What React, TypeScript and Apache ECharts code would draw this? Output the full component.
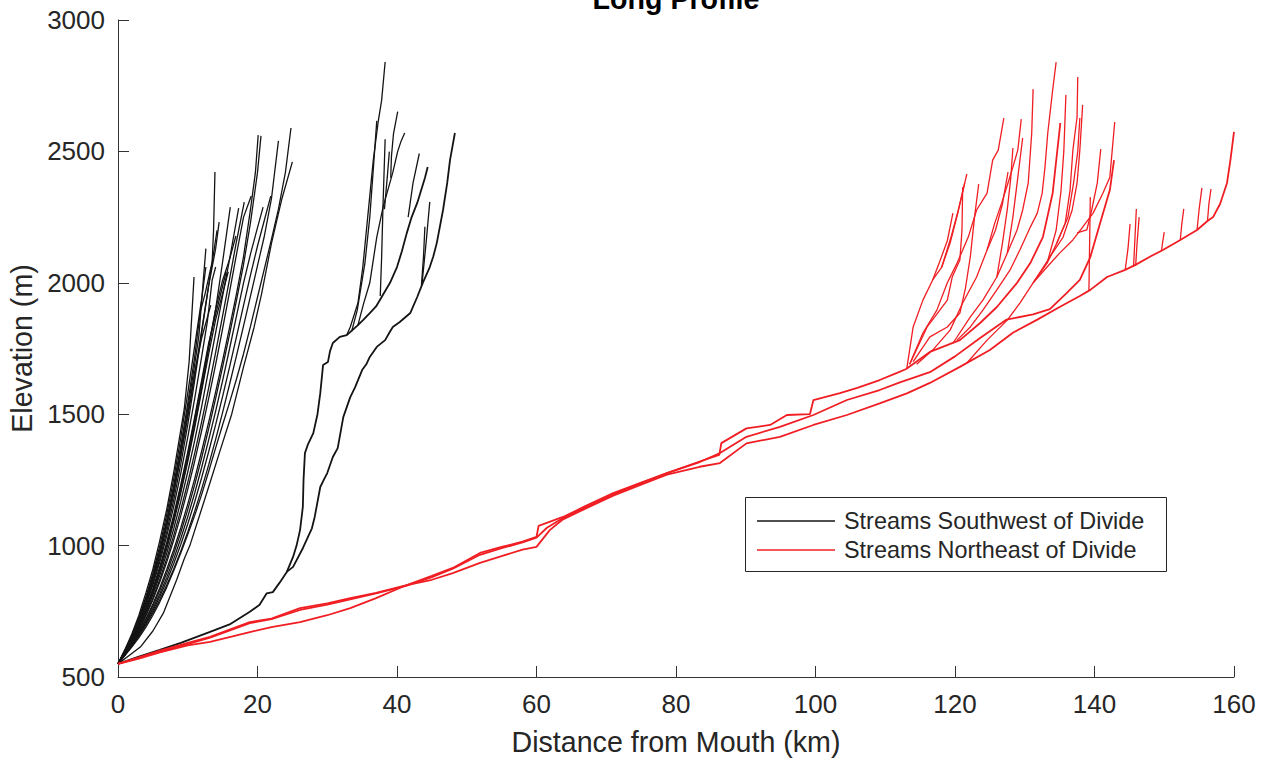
import { useEffect, useRef } from "react";
import * as echarts from "echarts";

type Pt = [number, number];

const SW_NAME = "Streams Southwest of Divide";
const NE_NAME = "Streams Northeast of Divide";
const TITLE = "Long Profile";
const X_NAME = "Distance from Mouth (km)";
const Y_NAME = "Elevation (m)";

// ---- Southwest of divide: short steep streams (distance km, elevation m) ----
const sw01: Pt[] = [[0,550],[1,605],[2,665],[3,735],[4,820],[5,910],[6,1020],[7,1140],[8,1280],[9,1440],[9.5,1520],[10.2,1700],[10.9,2022]];
const sw02: Pt[] = [[0,550],[1,600],[2,655],[3,720],[4,800],[5,885],[6,985],[7,1100],[8,1230],[9,1380],[10,1540],[11,1720],[11.8,1890],[12.5,1960],[13.5,2080],[13.7,2200],[13.9,2422]];
const sw03: Pt[] = [[0,550],[1,598],[2,650],[3,712],[4,785],[5,868],[6,965],[7,1075],[8,1200],[9,1340],[10,1490],[11,1650],[12,1820],[13,1990],[14,2130],[14.5,2231]];
const sw04: Pt[] = [[0,550],[1,596],[2,648],[3,708],[4,778],[5,858],[6,950],[7,1055],[8,1175],[9,1310],[10,1460],[11,1630],[12,1810],[13,1990],[14.2,2200]];
const sw05: Pt[] = [[0,550],[1,602],[2,660],[3,726],[4,805],[5,895],[6,1000],[7,1120],[8,1255],[9,1410],[10,1580],[11,1760],[12,1940],[12.6,2060]];
const sw06: Pt[] = [[0,550],[1,592],[2,638],[3,692],[4,755],[5,828],[6,910],[7,1000],[8,1100],[9,1210],[10,1330],[11,1460],[12,1600],[13,1750],[14,1900],[15,2080],[16.1,2288]];
const sw07: Pt[] = [[0,550],[1,590],[2,635],[3,686],[4,745],[5,812],[6,888],[7,972],[8,1065],[9,1168],[10,1280],[11,1400],[12,1530],[13,1670],[14,1810],[15,1950],[16,2090],[17.3,2284]];
const sw08: Pt[] = [[0,550],[1,589],[2,632],[3,681],[4,737],[5,800],[6,872],[7,952],[8,1040],[9,1136],[10,1240],[11,1352],[12,1472],[13,1600],[14,1735],[15,1875],[16,2015],[17,2160],[18.1,2307]];
const sw09: Pt[] = [[0,550],[1,594],[2,642],[3,698],[4,762],[5,836],[6,920],[7,1014],[8,1118],[9,1232],[10,1356],[11,1490],[12,1630],[13,1770],[14,1880],[15.5,2041]];
const sw10: Pt[] = [[0,550],[1,588],[2,628],[3,672],[4,722],[5,778],[6,840],[7,910],[8,985],[9,1068],[10,1158],[11,1255],[12,1360],[13,1470],[14,1585],[15,1705],[16,1830],[17,1960],[18,2100],[19,2280],[19.7,2420],[20.1,2562]];
const sw11: Pt[] = [[0,550],[1,586],[2,625],[3,668],[4,716],[5,770],[6,830],[7,897],[8,970],[9,1050],[10,1137],[11,1232],[12,1335],[13,1445],[14,1560],[15,1680],[16,1805],[17,1935],[18,2070],[19,2230],[20,2420],[20.5,2559]];
const sw12: Pt[] = [[0,550],[1,585],[2,622],[3,663],[4,709],[5,760],[6,817],[7,880],[8,950],[9,1027],[10,1110],[11,1200],[12,1298],[13,1402],[14,1512],[15,1628],[16,1750],[17,1875],[18,2000],[19,2110],[20,2210],[20.8,2288]];
const sw13: Pt[] = [[0,550],[1,584],[2,620],[3,660],[4,704],[5,752],[6,806],[7,866],[8,932],[9,1004],[10,1082],[11,1167],[12,1259],[13,1357],[14,1460],[15,1568],[16,1680],[17,1796],[18,1914],[19,2030],[20,2140],[21,2240],[21.9,2330]];
const sw14: Pt[] = [[0,550],[1,583],[2,618],[3,656],[4,698],[5,744],[6,795],[7,851],[8,912],[9,979],[10,1052],[11,1131],[12,1216],[13,1307],[14,1404],[15,1507],[16,1614],[17,1724],[18,1836],[19,1950],[20,2065],[21,2180],[22,2320],[23,2540]];
const sw15: Pt[] = [[0,550],[1,582],[2,615],[3,650],[4,690],[5,735],[6,786],[7,842],[8,905],[9,972],[10,1042],[11,1115],[12,1195],[13,1282],[14,1372],[15,1460],[16,1545],[17,1635],[18,1730],[19,1835],[20,1945],[21,2055],[22,2165],[23,2280],[24,2420],[24.8,2589]];
const sw16: Pt[] = [[0,550],[1.5,580],[3.2,614],[5,675],[6.5,743],[8.4,869],[9.5,950],[10.3,1000],[12,1140],[13.2,1240],[14.5,1350],[16.3,1500],[18,1680],[19.5,1830],[20.6,1960],[22,2150],[23.5,2320],[25,2460]];
const sw17: Pt[] = [[0,550],[1,593],[2,640],[3,695],[4,758],[5,830],[6,912],[7,1005],[8,1108],[9,1222],[10,1346],[11,1478],[12,1618],[13,1762],[14,1900],[15,2010],[16,2090],[16.9,2178]];
const sw18: Pt[] = [[0,550],[1,597],[2,652],[3,714],[4,790],[5,875],[6,970],[7,1080],[8,1205],[9,1345],[10,1500],[11,1660],[12,1790],[13.3,1915]];
const sw19: Pt[] = [[0,550],[1,591],[2,637],[3,690],[4,750],[5,820],[6,900],[7,990],[8,1090],[9,1200],[10,1320],[11,1450],[12,1590],[13,1730],[14,1860],[15,1960],[15.8,2042]];
const sw20: Pt[] = [[0,550],[1,595],[2,646],[3,704],[4,772],[5,850],[6,938],[7,1038],[8,1150],[9,1275],[10,1412],[11,1560],[12,1720],[12.8,1850],[13.5,2010],[14,2060]];
const sw21: Pt[] = [[0,550],[1,599],[2,654],[3,717],[4,795],[5,880],[6,978],[7,1090],[8,1218],[9,1362],[10,1520],[11,1690],[11.6,1800],[12.2,2000],[12.6,2130]];
const sw22: Pt[] = [[0,550],[1,587],[2,630],[3,678],[4,733],[5,794],[6,862],[7,938],[8,1022],[9,1114],[10,1214],[11,1322],[12,1438],[13,1560],[14,1690],[15,1826],[16,1966],[17,2110],[18,2250],[19.1,2330]];

// ---- Southwest of divide: the two longer trunks and their tributaries ----
const swTrunkA: Pt[] = [[0,550],[3,578],[6,603],[9,630],[13.2,672],[16,700],[18.9,748],[20.3,775],[21.3,818],[22.2,823],[23.2,860],[24.2,900],[25.1,957],[25.6,1000],[26.1,1059],[26.5,1147],[26.6,1250],[26.8,1352],[27.2,1383],[28,1428],[28.6,1500],[29,1580],[29.4,1687],[30.1,1699],[30.4,1740],[30.8,1771],[31.8,1794],[32.8,1801],[33.6,1820],[34.4,1839],[35.2,1860],[36.1,1885],[37,1910],[37.8,1946],[39,2000],[40,2060],[40.7,2120],[41.4,2189],[42.1,2250],[42.9,2304],[44,2399],[44.4,2441]];
const swTrunkB: Pt[] = [[24.2,900],[25.1,919],[26.5,990],[27.8,1066],[28.2,1109],[29,1223],[29.5,1250],[30,1276],[30.8,1337],[31.5,1371],[31.9,1430],[32.3,1489],[33.3,1565],[34,1603],[35,1668],[35.6,1690],[36.1,1718],[37.1,1756],[38.3,1782],[38.9,1810],[39.4,1832],[40.4,1851],[41.9,1885],[42.9,1946],[43.7,2000],[44.7,2060],[45.2,2100],[45.7,2151],[46.6,2277],[47.2,2380],[47.6,2467],[48.3,2570]];
const swTrib1: Pt[] = [[32.8,1801],[33.3,1832],[34.4,1923],[35.1,2060],[35.8,2250],[36.6,2467],[37.3,2612],[37.8,2695],[38.3,2840]];
const swTrib2: Pt[] = [[33.5,1815],[34.3,1896],[35.4,2075],[36.1,2250],[36.8,2505],[37.1,2616]];
const swTrib3: Pt[] = [[34.4,1839],[35.2,1920],[36.1,2000],[37.1,2174],[38,2288],[39.4,2420],[40.1,2500],[40.6,2540],[41.1,2570]];
const swTrib4: Pt[] = [[39.1,2400],[39.2,2480],[39.5,2568],[40.1,2651]];
const swTrib5: Pt[] = [[37.6,1950],[37.8,2100],[38,2300],[38.3,2546]];
const swTrib6: Pt[] = [[38.2,2280],[38.6,2400],[38.9,2499]];
const swTrib7: Pt[] = [[41.6,2250],[42.3,2380],[43.2,2492]];
const swTrib8: Pt[] = [[43.5,1990],[43.8,2100],[44,2213]];
const swTrib9: Pt[] = [[43.6,2000],[44.2,2160],[44.7,2308]];

// ---- Northeast of divide: three trunks, the lowest running to 160 km ----
const neTrunkU: Pt[] = [[0,550],[3,575],[6,600],[10,630],[13.2,653],[18.9,709],[22,722],[26.1,762],[30,780],[33.3,800],[37,820],[41.4,850],[45,885],[48,915],[51.9,972],[55,995],[58,1015],[60,1033],[60.3,1075],[63.8,1109],[67,1150],[71,1200],[75,1240],[78.7,1276],[83.4,1320],[86.2,1345],[86.5,1390],[90.1,1446],[93.5,1459],[95.9,1497],[99.2,1500],[99.7,1554],[103.5,1580],[106,1600],[109.2,1630],[111.7,1657],[113,1672],[116.4,1737],[120.7,1782],[123.6,1847],[126,1908],[128.9,2000],[130.8,2075],[132.6,2174],[134,2341],[135.1,2608]];
const neTrunkM: Pt[] = [[0,550],[3,573],[6,597],[10,625],[13.2,650],[18.9,705],[22,720],[26.1,755],[30,775],[33.3,795],[37,818],[41.4,848],[45,880],[48,912],[51.9,965],[55,990],[58,1012],[60,1030],[61.5,1068],[63.8,1105],[67,1145],[71,1195],[75,1238],[78.7,1276],[83.4,1318],[86.3,1352],[90.1,1414],[94.9,1452],[99.7,1497],[104.5,1554],[109.2,1592],[112,1620],[116.4,1660],[120,1720],[123.6,1790],[127.4,1860],[131.2,1880],[133.6,1900],[136,1961],[137.9,2011],[139.4,2098],[140.8,2227],[142.2,2353],[142.8,2467]];
const neTrunkL: Pt[] = [[0,550],[3,570],[6,594],[10,620],[13.2,634],[18.9,671],[22,690],[26.1,709],[30,735],[33.3,762],[37,800],[41.4,850],[45,870],[48,895],[51.9,934],[55,960],[58,985],[60,995],[61.9,1059],[63.8,1100],[67,1140],[71,1190],[75,1232],[78.7,1270],[83.4,1300],[86.3,1314],[90.1,1389],[94.9,1414],[99.7,1459],[104.5,1497],[109.2,1541],[113.1,1579],[116.4,1619],[120.7,1680],[125,1744],[128.3,1810],[131.8,1860],[135,1908],[137.9,1950],[139.4,1973],[141.8,2022],[144.4,2049],[146,2070],[148,2100],[149.8,2125],[152.3,2163],[154.7,2201],[156.2,2235],[157,2250],[158,2300],[159,2380],[159.5,2470],[160,2574]];

// ---- Northeast of divide: headwater tributaries ----
const neA1: Pt[] = [[113.1,1675],[114,1832],[115.4,1934],[116.8,2011],[118.1,2060],[119.3,2151],[120.4,2265],[121.4,2380],[121.7,2414]];
const neA2: Pt[] = [[113.5,1690],[116,1832],[117.1,1870],[118.9,1934],[119.6,2022],[120.7,2087],[121,2200],[121.1,2364]];
const neA3: Pt[] = [[116.8,2011],[117.8,2080],[118.9,2160],[119.7,2265]];
const neA4: Pt[] = [[114,1700],[116.4,1794],[118.9,1832],[120.7,1885],[121.5,1980],[122.2,2100],[122.8,2250],[123.4,2376]];
const neA5: Pt[] = [[118.1,2060],[119.5,2180],[120.5,2280],[121.4,2380]];
const neB1: Pt[] = [[113.5,1690],[115.4,1809],[117.4,1896],[118.9,2000],[120.3,2075],[121.9,2174],[123.1,2277],[124.6,2341],[125.4,2467],[126.2,2505],[127,2627]];
const neB2: Pt[] = [[114.5,1690],[116.8,1744],[119.3,1820],[121.1,1923],[123.1,2022],[124.6,2125],[125.7,2227],[126.7,2304],[127.6,2380],[128.3,2440],[129,2505],[129.5,2623]];
const neB3: Pt[] = [[119.7,1770],[122.2,1870],[124,1934],[126,2022],[127.5,2113],[128.9,2201],[129.7,2277],[130.5,2380],[131,2570],[131.2,2737]];
const neB4: Pt[] = [[124.6,2125],[125.8,2200],[126.8,2300],[127.6,2421]];
const neB5: Pt[] = [[126,2022],[126.8,2150],[127.5,2280],[128,2400],[128.3,2513]];
const neB6: Pt[] = [[127.5,2113],[128.3,2250],[129,2400],[129.7,2551]];
const neC1: Pt[] = [[120.3,1782],[122.2,1832],[124,1896],[126,1973],[127.9,2049],[129.3,2125],[130.8,2212],[131.8,2265],[132.5,2341],[132.9,2440],[133.3,2570],[134,2733],[134.5,2840]];
const neC2: Pt[] = [[121.7,1695],[124.6,1782],[127.5,1858],[129.3,1923],[131.2,2000],[133.2,2075],[134.6,2151],[135.8,2227],[136.5,2353],[136.9,2505],[137.5,2631],[137.6,2783]];
const neC3: Pt[] = [[133.2,2075],[134.5,2200],[135.2,2350],[135.6,2500],[135.9,2715]];
const neC4: Pt[] = [[131.2,2000],[133.6,2098],[135.5,2174],[136.8,2277],[137.5,2380],[137.9,2505],[138.3,2677]];
const neC5: Pt[] = [[134.6,2151],[136.2,2250],[137,2380],[137.6,2500],[137.9,2627]];
const neD1: Pt[] = [[131.2,2000],[133.2,2060],[135,2113],[136.9,2163],[138.3,2212],[139.8,2265],[141.2,2341],[142.2,2402],[142.9,2612]];
const neD2: Pt[] = [[137.5,2190],[138.9,2201],[139.6,2277],[140.4,2380],[140.9,2509]];
const neD3: Pt[] = [[139.2,1970],[139.3,2150],[139.4,2326]];
const neE1: Pt[] = [[144.4,2049],[144.8,2130],[145.1,2224]];
const neE2: Pt[] = [[145.6,2060],[145.8,2170],[146,2281]];
const neE3: Pt[] = [[145.9,2065],[146.1,2150],[146.4,2250]];
const neE4: Pt[] = [[149.6,2120],[149.8,2160],[150,2193]];
const neE5: Pt[] = [[152.3,2163],[152.5,2220],[152.8,2281]];
const neE6: Pt[] = [[154.7,2201],[155,2280],[155.4,2361]];
const neE7: Pt[] = [[156.2,2235],[156.4,2300],[156.7,2357]];

const southwestHeadwaters: Pt[][] = [
  sw01, sw02, sw03, sw04, sw05, sw06, sw07, sw08, sw09, sw10,
  sw11, sw12, sw13, sw14, sw15, sw16, sw17, sw18, sw19, sw20,
  sw21, sw22,
  swTrib1, swTrib2, swTrib3, swTrib4, swTrib5,
  swTrib6, swTrib7, swTrib8, swTrib9,
];
const southwestTrunks: Pt[][] = [swTrunkA, swTrunkB];

const northeastTrunks: Pt[][] = [neTrunkU, neTrunkM, neTrunkL];
const northeastHeadwaters: Pt[][] = [
  neA1, neA2, neA3, neA4, neA5,
  neB1, neB2, neB3, neB4, neB5, neB6,
  neC1, neC2, neC3, neC4, neC5,
  neD1, neD2, neD3,
  neE1, neE2, neE3, neE4, neE5, neE6, neE7,
];

const FONT = "'Liberation Sans', Arial, Helvetica, sans-serif";
const AXIS_COLOR = "#333333";
const TEXT_COLOR = "#262626";
const SW_COLOR = "#141414";
const NE_COLOR = "#f01e23";

export default function App() {
  const ref = useRef<HTMLDivElement>(null);

  useEffect(() => {
    if (!ref.current) return;
    const chart = echarts.init(ref.current, null, { renderer: "svg" });

    const lineSeries = (name: string, color: string, width: number) => (data: Pt[]) => ({
      type: "line",
      name,
      data,
      symbol: "none",
      showSymbol: false,
      silent: true,
      clip: true,
      lineStyle: { color, width },
      itemStyle: { color },
      emphasis: { disabled: true },
    });

    chart.setOption({
      animation: false,
      grid: { left: 118, right: 34, top: 20, bottom: 84, containLabel: false, outerBoundsMode: "none" },
      xAxis: {
        type: "value",
        min: 0,
        max: 160,
        interval: 20,
        name: X_NAME,
        nameLocation: "middle",
        nameGap: 50,
        nameTextStyle: { fontSize: 28.6, color: TEXT_COLOR, fontFamily: FONT },
        axisLine: { show: true, onZero: false, lineStyle: { color: AXIS_COLOR, width: 1 } },
        axisTick: { show: true, inside: true, length: 11, lineStyle: { color: AXIS_COLOR } },
        axisLabel: { margin: 14, fontSize: 26, color: TEXT_COLOR, fontFamily: FONT, formatter: (v: number) => String(v) },
        splitLine: { show: false },
      },
      yAxis: {
        type: "value",
        min: 500,
        max: 3000,
        interval: 500,
        name: Y_NAME,
        nameLocation: "middle",
        nameGap: 82,
        nameRotate: 90,
        nameTextStyle: { fontSize: 28.6, color: TEXT_COLOR, fontFamily: FONT },
        axisLine: { show: true, onZero: false, lineStyle: { color: AXIS_COLOR, width: 1 } },
        axisTick: { show: true, inside: true, length: 11, lineStyle: { color: AXIS_COLOR } },
        axisLabel: { margin: 13, fontSize: 26, color: TEXT_COLOR, fontFamily: FONT, formatter: (v: number) => String(v) },
        splitLine: { show: false },
      },
      legend: {
        show: true,
        data: [
          { name: SW_NAME, icon: "rect" },
          { name: NE_NAME, icon: "rect" },
        ],
        orient: "vertical",
        left: 757,
        top: 508,
        padding: 0,
        itemGap: 3,
        itemWidth: 78,
        itemHeight: 1.5,
        selectedMode: false,
        textStyle: { fontSize: 23.4, lineHeight: 26, color: TEXT_COLOR, fontFamily: FONT, padding: [0, 0, 0, 4] },
        z: 10,
      },
      graphic: [
        {
          type: "rect",
          z: 5,
          shape: { x: 745.5, y: 497.5, width: 421, height: 74 },
          style: { fill: "#ffffff", stroke: TEXT_COLOR, lineWidth: 1 },
        },
        {
          type: "text",
          z: 10,
          x: 676,
          y: -1,
          style: {
            text: TITLE,
            fontSize: 28.6,
            fontWeight: "bold",
            fontFamily: FONT,
            fill: "#000000",
            align: "center",
            verticalAlign: "middle",
          },
        },
      ],
      series: [
        ...southwestHeadwaters.map(lineSeries(SW_NAME, SW_COLOR, 1.3)),
        ...southwestTrunks.map(lineSeries(SW_NAME, SW_COLOR, 1.8)),
        ...northeastTrunks.map(lineSeries(NE_NAME, NE_COLOR, 1.8)),
        ...northeastHeadwaters.map(lineSeries(NE_NAME, NE_COLOR, 1.3)),
      ],
    });

    return () => chart.dispose();
  }, []);

  return (
    <div
      ref={ref}
      style={{ position: "absolute", left: 0, top: 0, width: 1268, height: 761, background: "#ffffff" }}
    />
  );
}
